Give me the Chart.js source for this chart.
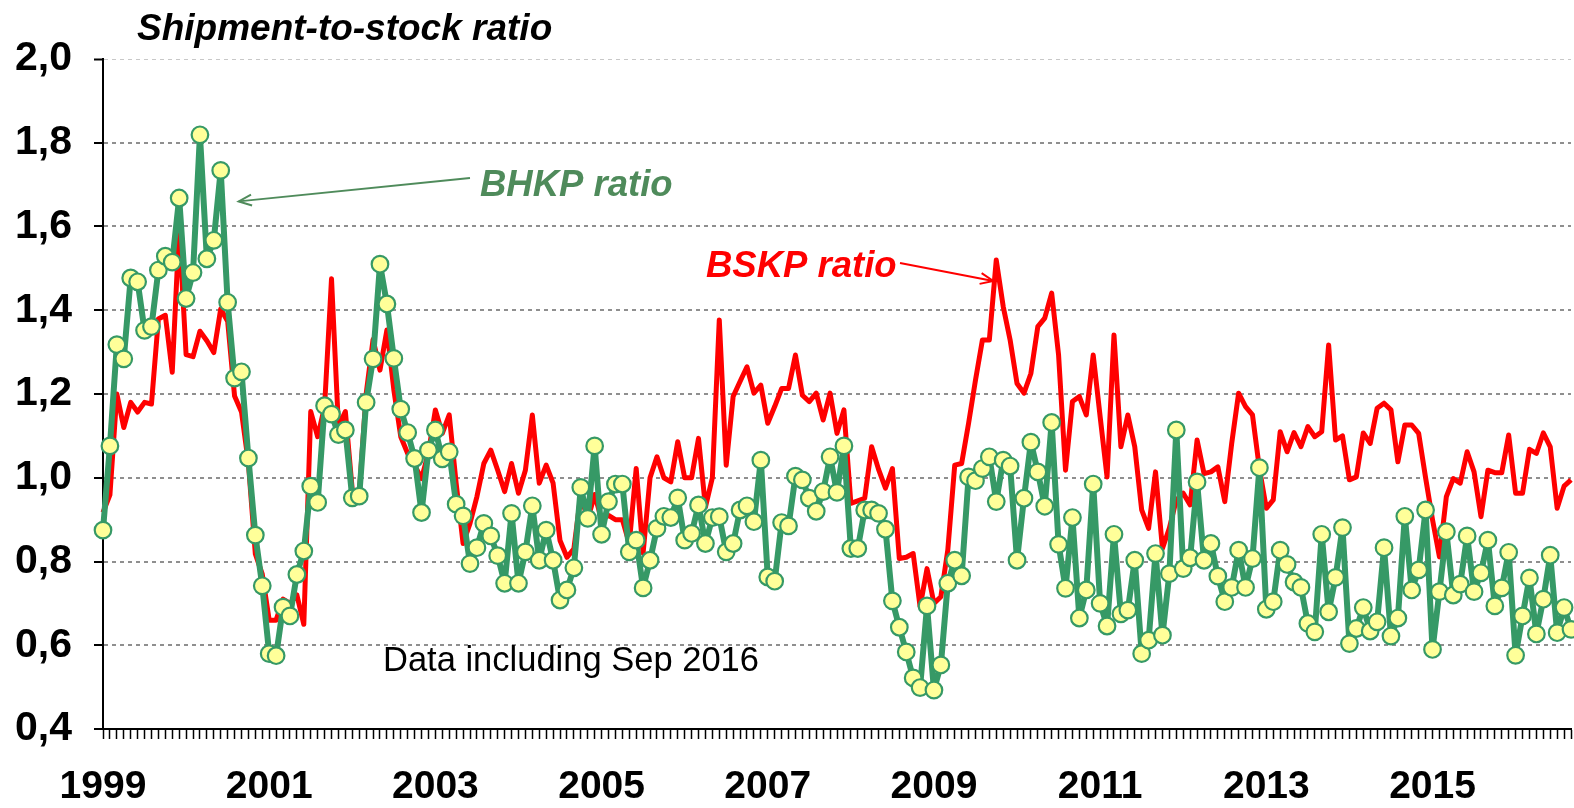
<!DOCTYPE html>
<html><head><meta charset="utf-8">
<script src="https://cdn.jsdelivr.net/npm/chart.js@4.4.1/dist/chart.umd.min.js"></script>
<style>html,body{margin:0;padding:0;background:#fff;} #wrap{width:1574px;height:808px;}</style>
</head><body><div id="wrap"><canvas id="c" width="1574" height="808"></canvas></div>
<script>
const FONT = '"Liberation Sans", Arial, Helvetica, sans-serif';

// Monthly categories, Jan 1999 .. Sep 2016
const firstYear = 1999, lastYear = 2016, lastMonth = 9;
const months = [];
for (let yr = firstYear; yr <= lastYear; yr++) {
  for (let m = 1; m <= 12; m++) {
    if (yr === lastYear && m > lastMonth) break;
    months.push(yr + '-' + String(m).padStart(2, '0'));
  }
}
const yearTickLabels = ['1999','2001','2003','2005','2007','2009','2011','2013','2015'];
const yTickValues = [0.4,0.6,0.8,1.0,1.2,1.4,1.6,1.8,2.0];

// BHKP shipment-to-stock ratio (green, markers)
const bhkpRatio = [
 0.875,1.076,1.318,1.284,1.477,1.468,1.352,1.361,1.496,1.529,1.515,1.668,
 1.428,1.49,1.819,1.523,1.567,1.734,1.419,1.238,1.253,1.047,0.863,0.742,
 0.58,0.575,0.691,0.67,0.769,0.825,0.98,0.941,1.172,1.152,1.103,1.114,
 0.952,0.956,1.18,1.284,1.51,1.415,1.285,1.164,1.108,1.046,0.917,1.066,
 1.114,1.045,1.062,0.937,0.909,0.795,0.833,0.891,0.861,0.814,0.748,0.915,
 0.748,0.823,0.933,0.803,0.875,0.803,0.708,0.732,0.785,0.977,0.903,1.076,
 0.865,0.943,0.985,0.985,0.823,0.851,0.737,0.803,0.879,0.908,0.905,0.952,
 0.851,0.867,0.935,0.843,0.905,0.907,0.823,0.843,0.923,0.933,0.895,1.042,
 0.763,0.753,0.893,0.885,1.004,0.995,0.951,0.92,0.967,1.05,0.965,1.076,
 0.831,0.831,0.923,0.923,0.915,0.877,0.706,0.643,0.584,0.522,0.499,0.694,
 0.493,0.553,0.748,0.803,0.766,1.002,0.993,1.022,1.05,0.943,1.042,1.028,
 0.803,0.951,1.085,1.014,0.932,1.132,0.841,0.736,0.905,0.665,0.732,0.985,
 0.7,0.646,0.865,0.675,0.684,0.803,0.58,0.612,0.819,0.624,0.771,1.114,
 0.783,0.809,0.99,0.803,0.843,0.765,0.704,0.738,0.827,0.738,0.807,1.024,
 0.686,0.704,0.827,0.793,0.751,0.738,0.652,0.632,0.865,0.68,0.762,0.881,
 0.604,0.64,0.69,0.634,0.656,0.833,0.622,0.665,0.908,0.732,0.78,0.923,
 0.59,0.728,0.871,0.72,0.746,0.861,0.728,0.773,0.851,0.694,0.737,0.822,
 0.576,0.67,0.761,0.627,0.71,0.815,0.63,0.69,0.638
];

// BSKP shipment-to-stock ratio (red line)
const bskpRatio = [
 0.917,0.959,1.2,1.12,1.18,1.157,1.18,1.176,1.379,1.388,1.252,1.596,
 1.294,1.289,1.35,1.327,1.299,1.403,1.374,1.195,1.157,1.035,0.818,0.77,
 0.66,0.66,0.71,0.70,0.72,0.65,1.158,1.098,1.17,1.475,1.122,1.158,
 0.97,0.96,1.2,1.33,1.257,1.353,1.21,1.098,1.058,1.03,0.998,1.06,
 1.162,1.106,1.15,0.987,0.843,0.891,0.955,1.034,1.066,1.018,0.967,1.034,
 0.963,1.018,1.15,0.987,1.03,0.987,0.85,0.81,0.83,0.96,0.9,0.96,
 0.9,0.91,0.9,0.9,0.843,1.022,0.82,1.0,1.05,1.0,0.99,1.086,
 1.0,1.0,1.094,0.93,1.0,1.377,1.03,1.194,1.23,1.265,1.202,1.221,
 1.13,1.17,1.213,1.213,1.293,1.197,1.182,1.202,1.138,1.202,1.106,1.162,
 0.939,0.945,0.951,1.074,1.02,0.975,1.022,0.807,0.81,0.819,0.692,0.783,
 0.70,0.716,0.827,1.03,1.034,1.13,1.233,1.329,1.329,1.52,1.409,1.329,
 1.225,1.202,1.249,1.361,1.381,1.441,1.293,1.018,1.182,1.194,1.15,1.293,
 1.146,1.002,1.341,1.074,1.15,1.074,0.923,0.879,1.014,0.831,0.88,0.947,
 0.963,0.935,1.09,1.01,1.014,1.026,0.943,1.082,1.202,1.17,1.15,1.022,
 0.927,0.947,1.11,1.062,1.108,1.074,1.122,1.098,1.11,1.317,1.09,1.10,
 0.995,1.002,1.107,1.082,1.166,1.178,1.162,1.038,1.126,1.126,1.106,1.0,
 0.90,0.811,0.955,0.998,0.987,1.062,1.014,0.907,1.018,1.012,1.012,1.102,
 0.963,0.963,1.068,1.058,1.107,1.074,0.927,0.98,0.995
];

const GREEN = '#369966';
const GREEN_TXT = '#4F8B5B';
const RED = '#FF0000';

function arrow(ctx, x1, y1, x2, y2, color) {
  ctx.save();
  ctx.strokeStyle = color; ctx.lineWidth = 2;
  ctx.beginPath(); ctx.moveTo(x1, y1); ctx.lineTo(x2, y2); ctx.stroke();
  const a = Math.atan2(y2 - y1, x2 - x1), L = 14, W = 0.4;
  ctx.beginPath();
  ctx.moveTo(x2 - L * Math.cos(a - W), y2 - L * Math.sin(a - W));
  ctx.lineTo(x2, y2);
  ctx.lineTo(x2 - L * Math.cos(a + W), y2 - L * Math.sin(a + W));
  ctx.stroke();
  ctx.restore();
}

const annotPlugin = {
  id: 'annot',
  afterDraw(chart) {
    const { ctx, scales: { x, y } } = chart;
    ctx.save();
    ctx.textBaseline = 'alphabetic'; ctx.textAlign = 'left';
    ctx.fillStyle = '#000';
    ctx.font = 'italic bold 37px ' + FONT;
    ctx.fillText('Shipment-to-stock ratio', 137, 40);
    ctx.font = 'italic bold 36.5px ' + FONT;
    ctx.fillStyle = GREEN_TXT;
    ctx.fillText('BHKP ratio', 480, 196);
    arrow(ctx, 470, 178, x.getPixelForValue(17) + 18, y.getPixelForValue(1.66), GREEN_TXT);
    ctx.fillStyle = RED;
    ctx.fillText('BSKP ratio', 706, 277);
    arrow(ctx, 900, 263, x.getPixelForValue(129) - 3, y.getPixelForValue(1.47), RED);
    ctx.fillStyle = '#000';
    ctx.font = '34.5px ' + FONT;
    ctx.fillText('Data including Sep 2016', 383, 671);
    ctx.restore();
  }
};

new Chart(document.getElementById('c'), {
  type: 'line',
  data: {
    labels: months,
    datasets: [
      { label: 'BHKP ratio', data: bhkpRatio, borderColor: GREEN, borderWidth: 6, borderJoinStyle: 'round',
        pointRadius: 8.3, pointBorderWidth: 2.2, pointBackgroundColor: '#FFFF99', pointBorderColor: GREEN,
        tension: 0, clip: false, order: 1 },
      { label: 'BSKP ratio', data: bskpRatio, borderColor: RED, borderWidth: 5, borderJoinStyle: 'round',
        pointRadius: 0, tension: 0, clip: false, order: 2 }
    ]
  },
  options: {
    responsive: false, animation: false, devicePixelRatio: 1,
    layout: { autoPadding: false, padding: { top: 59, right: 3, left: 0, bottom: 0 } },
    plugins: { legend: { display: false }, tooltip: { enabled: false } },
    scales: {
      x: {
        type: 'category', offset: false,
        grid: { display: true, drawOnChartArea: false, drawTicks: true, tickLength: 10, tickColor: '#000', tickWidth: 1.5 },
        border: { display: true, color: '#000', width: 2 },
        ticks: {
          autoSkip: false, maxRotation: 0, minRotation: 0, padding: 25, color: '#000',
          font: { family: FONT, size: 39, weight: 'bold' },
          callback: (v, i) => {
            const lab = months[i];
            const yr = lab.slice(0, 4);
            return (lab.endsWith('-01') && yearTickLabels.includes(yr)) ? yr : '';
          }
        },
        afterFit: s => { s.height = 79; s.paddingRight = 0; s.paddingLeft = 0; }
      },
      y: {
        min: 0.4, max: 2.0,
        afterBuildTicks: s => { s.ticks = yTickValues.map(v => ({ value: v })); },
        grid: {
          color: c => (c.tick && c.tick.value === 2.0) ? '#c8c8c8' : '#8f8f8f',
          lineWidth: c => (c.tick && c.tick.value === 2.0) ? 1 : 2,
          drawTicks: true, tickLength: 9, tickColor: '#000', tickWidth: 2
        },
        border: { display: true, color: '#000', width: 2, dash: [4, 4] },
        ticks: {
          padding: 22, color: '#000',
          font: { family: FONT, size: 41, weight: 'bold' },
          callback: v => Number(v).toFixed(1).replace('.', ',')
        },
        afterFit: s => { s.width = 103; s.paddingTop = 0; s.paddingBottom = 0; }
      }
    }
  },
  plugins: [annotPlugin]
});
</script>
</body></html>
